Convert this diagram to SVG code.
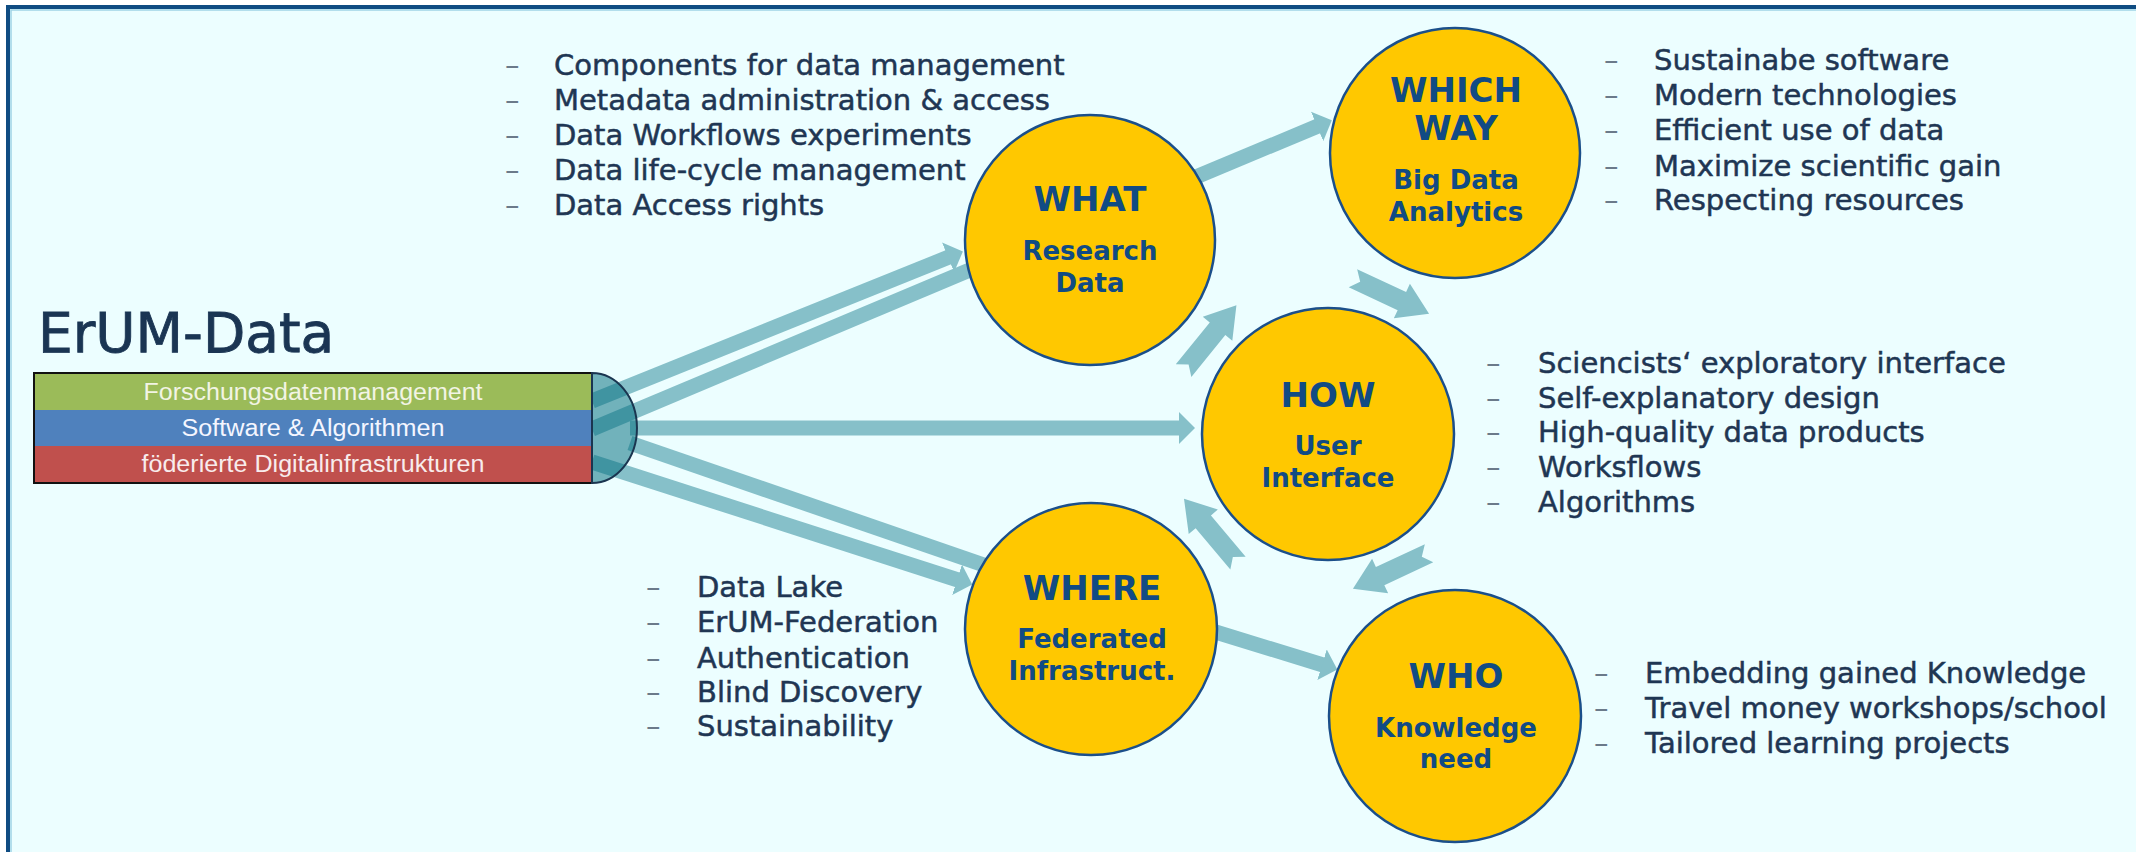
<svg xmlns="http://www.w3.org/2000/svg" xmlns:xlink="http://www.w3.org/1999/xlink" width="2136" height="852" viewBox="0 0 2136 852">
<style>
.list{font-family:"DejaVu Sans","Liberation Sans",sans-serif;font-size:29px;fill:#1f3653;stroke:#1f3653;stroke-width:0.5}
.dash{font-family:"DejaVu Sans","Liberation Sans",sans-serif;font-size:29px;fill:#6b7a8a}
.title{font-family:"DejaVu Sans","Liberation Sans",sans-serif;font-weight:bold;font-size:34px;fill:#114b84;text-anchor:middle}
.sub{font-family:"DejaVu Sans","Liberation Sans",sans-serif;font-weight:bold;font-size:26px;fill:#114b84;text-anchor:middle}
.band{font-family:"Liberation Sans",Arial,sans-serif;font-size:23px;text-anchor:middle}
.circ{fill:#ffc800;stroke:#1b4f8a;stroke-width:2.5}
.conn{stroke:#86c0c9;stroke-width:15;fill:none;stroke-linecap:butt}
.cyc{fill:#86c0c9}
</style>
<defs>
<marker id="head" markerUnits="userSpaceOnUse" markerWidth="16" markerHeight="32" viewBox="0 0 16 32" refX="1" refY="16" orient="auto">
<path d="M0,0 L16,16 L0,32 Z" fill="#86c0c9"/>
</marker>
<path id="cycArrow" d="M-42,-10 L12,-10 L12,-19 L42,0 L12,19 L12,10 L-42,10 L-34,0 Z"/>
</defs>
<rect x="0" y="0" width="2136" height="852" fill="#ffffff"/>
<rect x="8" y="7" width="2140" height="860" fill="#ecfeff" stroke="#0f4c82" stroke-width="4"/>
<rect x="11" y="10" width="2140" height="860" fill="none" stroke="#9fd3e6" stroke-width="1.5"/>

<g id="connectors">
<line class="conn" x1="592" y1="401" x2="949" y2="257" marker-end="url(#head)"/>
<line class="conn" x1="592" y1="429" x2="1010" y2="253"/>
<line class="conn" x1="630" y1="428" x2="1180" y2="428" marker-end="url(#head)"/>
<line class="conn" x1="630" y1="443" x2="1010" y2="574"/>
<line class="conn" x1="592" y1="462" x2="958" y2="580" marker-end="url(#head)"/>
<line class="conn" x1="1160" y1="192" x2="1318" y2="126" marker-end="url(#head)"/>
<line class="conn" x1="1180" y1="621" x2="1323" y2="665" marker-end="url(#head)"/>
<use xlink:href="#cycArrow" class="cyc" transform="translate(1210,338) rotate(-51)"/>
<use xlink:href="#cycArrow" class="cyc" transform="translate(1391,296) rotate(25)"/>
<use xlink:href="#cycArrow" class="cyc" transform="translate(1211,531) rotate(230)"/>
<use xlink:href="#cycArrow" class="cyc" transform="translate(1391,571) rotate(155)"/>
</g>

<g id="erum-data">
<text x="38" y="352" font-family="DejaVu Sans, Liberation Sans, sans-serif" font-size="55" fill="#1a3553" stroke="#1a3553" stroke-width="0.9">ErUM-Data</text>
<rect x="34" y="373" width="558" height="37" fill="#9bbb59"/>
<rect x="34" y="410" width="558" height="36" fill="#4f81bd"/>
<rect x="34" y="446" width="558" height="37" fill="#c0504d"/>
<rect x="34" y="373" width="558" height="110" fill="none" stroke="#111111" stroke-width="2"/>
<path d="M592,373 A45,55 0 0 1 592,483 Z" fill="#006b7d" fill-opacity="0.52" stroke="#1a3550" stroke-width="2"/>
<text class="band" x="313" y="400" fill="#f2f4e4" textLength="339" lengthAdjust="spacingAndGlyphs">Forschungsdatenmanagement</text>
<text class="band" x="313" y="436" fill="#f4f6ff" textLength="263" lengthAdjust="spacingAndGlyphs">Software &amp; Algorithmen</text>
<text class="band" x="313" y="472" fill="#f8ecec" textLength="343" lengthAdjust="spacingAndGlyphs">föderierte Digitalinfrastrukturen</text>
</g>

<g id="what">
<circle class="circ" cx="1090" cy="240" r="125"/>
<text class="title" x="1090" y="211">WHAT</text>
<text class="sub" x="1090" y="260">Research</text>
<text class="sub" x="1090" y="292">Data</text>
</g>

<g id="which-way">
<circle class="circ" cx="1455" cy="153" r="125"/>
<text class="title" x="1456" y="102">WHICH</text>
<text class="title" x="1456" y="140">WAY</text>
<text class="sub" x="1456" y="189">Big Data</text>
<text class="sub" x="1456" y="221">Analytics</text>
</g>

<g id="how">
<circle class="circ" cx="1328" cy="434" r="126"/>
<text class="title" x="1328" y="407">HOW</text>
<text class="sub" x="1328" y="455">User</text>
<text class="sub" x="1328" y="487">Interface</text>
</g>

<g id="where">
<circle class="circ" cx="1091" cy="629" r="126"/>
<text class="title" x="1092" y="600">WHERE</text>
<text class="sub" x="1092" y="648">Federated</text>
<text class="sub" x="1092" y="680">Infrastruct.</text>
</g>

<g id="who">
<circle class="circ" cx="1455" cy="716" r="126"/>
<text class="title" x="1456" y="688">WHO</text>
<text class="sub" x="1456" y="737">Knowledge</text>
<text class="sub" x="1456" y="768">need</text>
</g>

<g id="what-list">
<text class="dash" x="505" y="75">–</text><text class="list" x="554" y="75">Components for data management</text>
<text class="dash" x="505" y="110">–</text><text class="list" x="554" y="110">Metadata administration &amp; access</text>
<text class="dash" x="505" y="145">–</text><text class="list" x="554" y="145">Data Workflows experiments</text>
<text class="dash" x="505" y="180">–</text><text class="list" x="554" y="180">Data life-cycle management</text>
<text class="dash" x="505" y="215">–</text><text class="list" x="554" y="215">Data Access rights</text>
</g>

<g id="which-list">
<text class="dash" x="1604" y="70">–</text><text class="list" x="1654" y="70">Sustainabe software</text>
<text class="dash" x="1604" y="105">–</text><text class="list" x="1654" y="105">Modern technologies</text>
<text class="dash" x="1604" y="140">–</text><text class="list" x="1654" y="140">Efficient use of data</text>
<text class="dash" x="1604" y="176">–</text><text class="list" x="1654" y="176">Maximize scientific gain</text>
<text class="dash" x="1604" y="210">–</text><text class="list" x="1654" y="210">Respecting resources</text>
</g>

<g id="how-list">
<text class="dash" x="1486" y="373">–</text><text class="list" x="1538" y="373">Sciencists‘ exploratory interface</text>
<text class="dash" x="1486" y="408">–</text><text class="list" x="1538" y="408">Self-explanatory design</text>
<text class="dash" x="1486" y="442">–</text><text class="list" x="1538" y="442">High-quality data products</text>
<text class="dash" x="1486" y="477">–</text><text class="list" x="1538" y="477">Worksflows</text>
<text class="dash" x="1486" y="512">–</text><text class="list" x="1538" y="512">Algorithms</text>
</g>

<g id="where-list">
<text class="dash" x="646" y="597">–</text><text class="list" x="697" y="597">Data Lake</text>
<text class="dash" x="646" y="632">–</text><text class="list" x="697" y="632">ErUM-Federation</text>
<text class="dash" x="646" y="668">–</text><text class="list" x="697" y="668">Authentication</text>
<text class="dash" x="646" y="702">–</text><text class="list" x="697" y="702">Blind Discovery</text>
<text class="dash" x="646" y="736">–</text><text class="list" x="697" y="736">Sustainability</text>
</g>

<g id="who-list">
<text class="dash" x="1594" y="683">–</text><text class="list" x="1645" y="683">Embedding gained Knowledge</text>
<text class="dash" x="1594" y="718">–</text><text class="list" x="1645" y="718">Travel money workshops/school</text>
<text class="dash" x="1594" y="753">–</text><text class="list" x="1645" y="753">Tailored learning projects</text>
</g>
</svg>
